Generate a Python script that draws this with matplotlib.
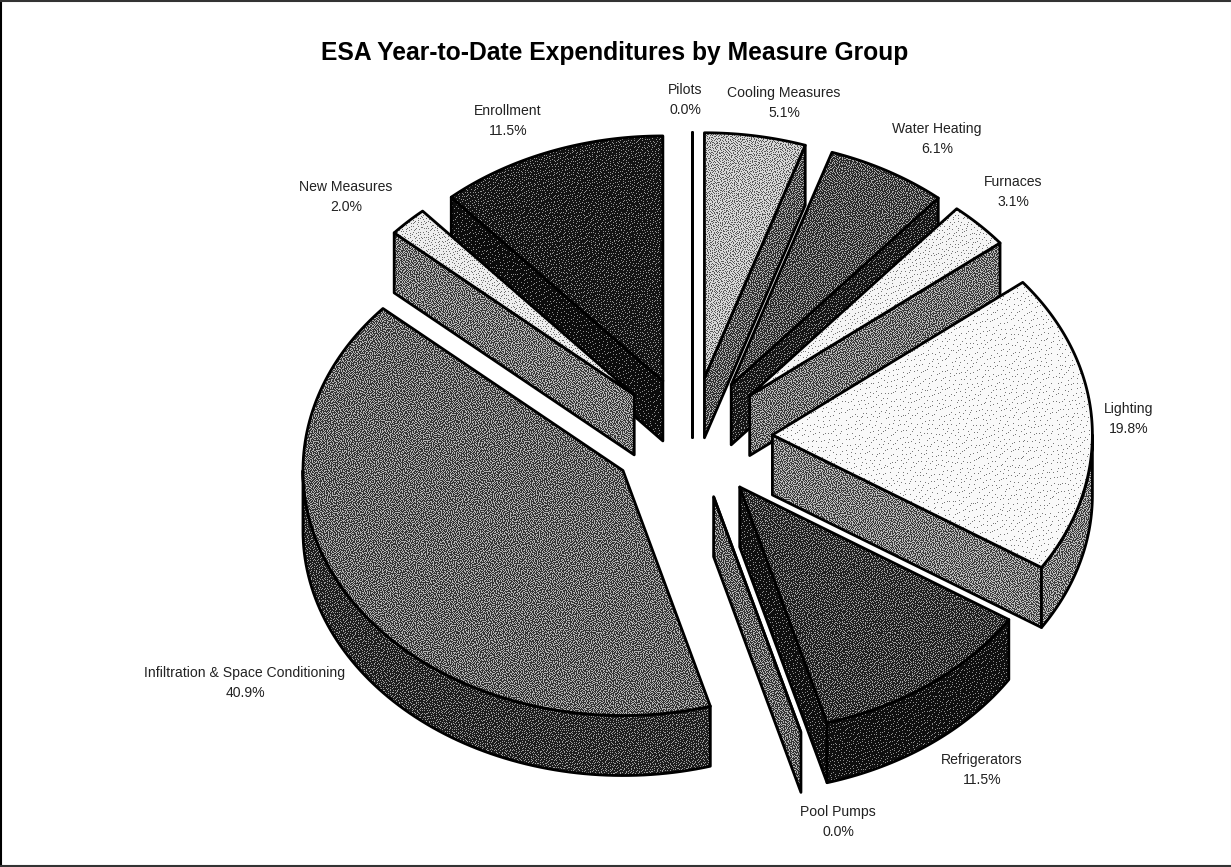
import numpy as np
import matplotlib
matplotlib.use('Agg')
import matplotlib.pyplot as plt
from matplotlib.patches import Polygon

# chart data, clockwise from twelve o'clock
names = ['Pilots', 'Cooling Measures', 'Water Heating', 'Furnaces', 'Lighting',
         'Refrigerators', 'Pool Pumps', 'Infiltration & Space Conditioning',
         'New Measures', 'Enrollment']
values = [0.0, 5.1, 6.1, 3.1, 19.8, 11.5, 0.0, 40.9, 2.0, 11.5]

# gray levels of the halftoned faces
top_gray = [0.0, 0.68, 0.33, 0.92, 0.95, 0.26, 0.40, 0.41, 0.86, 0.15]
side_gray = [0.0, 0.37, 0.17, 0.45, 0.47, 0.12, 0.40, 0.23, 0.45, 0.10]

# label centres in pixels
label_pos = [(685, 100), (784, 103), (937, 139), (1013, 192), (1129, 419),
             (982, 770), (838, 822), (245, 683), (346, 197), (508, 121)]

# paint order, Enrollment sits behind New Measures
draw_order = [9, 0, 1, 2, 3, 4, 8, 7, 5, 6]

W, H = 1231, 867
CX, CY = 691.5, 438
RX, RY = 320, 245
DEPTH = 60
EXPLODE_X, EXPLODE_Y = 81, 61

plt.rcParams['font.family'] = ['Liberation Sans', 'DejaVu Sans']

fig = plt.figure(figsize=(W / 100, H / 100), dpi=100, facecolor='white')
ax = fig.add_axes([0, 0, 1, 1])

screens = {}


def screen(gray):
    # error diffused tile softened towards the flat gray, like the scanned halftone
    if gray not in screens:
        n = 211
        buf = np.full((n, n), float(gray)).tolist()
        yy, xx = np.mgrid[0:n, 0:n]
        jitter = (np.sin(xx * 12.9898 + yy * 78.233) * 43758.5453) % 1.0
        jitter = ((jitter - 0.5) * 0.7 + 0.5).tolist()
        for y in range(n):
            row = buf[y]
            below = buf[y + 1] if y + 1 < n else None
            for x in range(n):
                old = row[x]
                new = 1.0 if old >= jitter[y][x] else 0.0
                row[x] = new
                err = old - new
                if x + 1 < n:
                    row[x + 1] += err * 7 / 16
                if below is not None:
                    if x > 0:
                        below[x - 1] += err * 3 / 16
                    below[x] += err * 5 / 16
                    if x + 1 < n:
                        below[x + 1] += err * 1 / 16
        tile = gray + 0.5 * (np.array(buf) - gray)
        screens[gray] = np.tile(tile, (H // n + 1, W // n + 1))[:H, :W]
    return screens[gray]


def face(points, gray):
    outline = Polygon(points, closed=True, facecolor='none', edgecolor='black',
                      linewidth=2.0, joinstyle='round')
    ax.add_patch(outline)
    clip = Polygon(points, closed=True, transform=ax.transData)
    im = ax.imshow(screen(gray), cmap='gray', vmin=0, vmax=1, extent=(0, W, H, 0),
                   interpolation='nearest', aspect='auto', clip_path=clip)
    # keep the paint order of the slices
    im.set_zorder(face.z)
    outline.set_zorder(face.z + 0.5)
    face.z += 1


face.z = 2


def rim(ax_, ay, angle):
    t = np.radians(angle)
    return ax_ + RX * np.sin(t), ay - RY * np.cos(t)


def draw_slice(start, end, top, side):
    mid = np.radians((start + end) / 2)
    ax_ = CX + EXPLODE_X * np.sin(mid)
    ay = CY - EXPLODE_Y * np.cos(mid)

    # radial walls that face the viewer
    if 180 <= start < 360:
        x, y = rim(ax_, ay, start)
        face([(ax_, ay), (x, y), (x, y + DEPTH), (ax_, ay + DEPTH)], side)
    if 0 <= end <= 180:
        x, y = rim(ax_, ay, end)
        face([(ax_, ay), (x, y), (x, y + DEPTH), (ax_, ay + DEPTH)], side)

    # outer wall, front half only
    a1, a2 = max(start, 90), min(end, 270)
    if a1 < a2:
        arc = [rim(ax_, ay, a) for a in np.linspace(a1, a2, 80)]
        low = [(x, y + DEPTH) for x, y in reversed(arc)]
        face(arc + low, side)

    # top
    arc = [rim(ax_, ay, a) for a in np.linspace(start, end, 120)]
    face([(ax_, ay)] + arc, top)


edges = np.concatenate([[0], np.cumsum(values)]) / sum(values) * 360
for i in draw_order:
    draw_slice(edges[i], edges[i + 1], top_gray[i], side_gray[i])

for name, v, (x, y) in zip(names, values, label_pos):
    ax.text(x, y, f'{name}\n{v:.1f}%', ha='center', va='center', fontsize=10.1,
            color='#222222', linespacing=1.5, zorder=50)

ax.text(615, 53, 'ESA Year-to-Date Expenditures by Measure Group', ha='center',
        va='center', fontsize=17.7, fontweight='bold', color='black', zorder=50)

# frame of the page
ax.plot([1, 1], [0, H], color='black', lw=1.5, zorder=60)
ax.plot([0, W], [1, 1], color='#333333', lw=1.5, zorder=60)
ax.plot([0, W], [H - 1, H - 1], color='#333333', lw=1.5, zorder=60)
ax.plot([W - 0.5, W - 0.5], [0, H], color='#cccccc', lw=0.8, zorder=60)

ax.set_xlim(0, W)
ax.set_ylim(H, 0)
ax.axis('off')

fig.savefig('out.png', dpi=100, facecolor='white')
